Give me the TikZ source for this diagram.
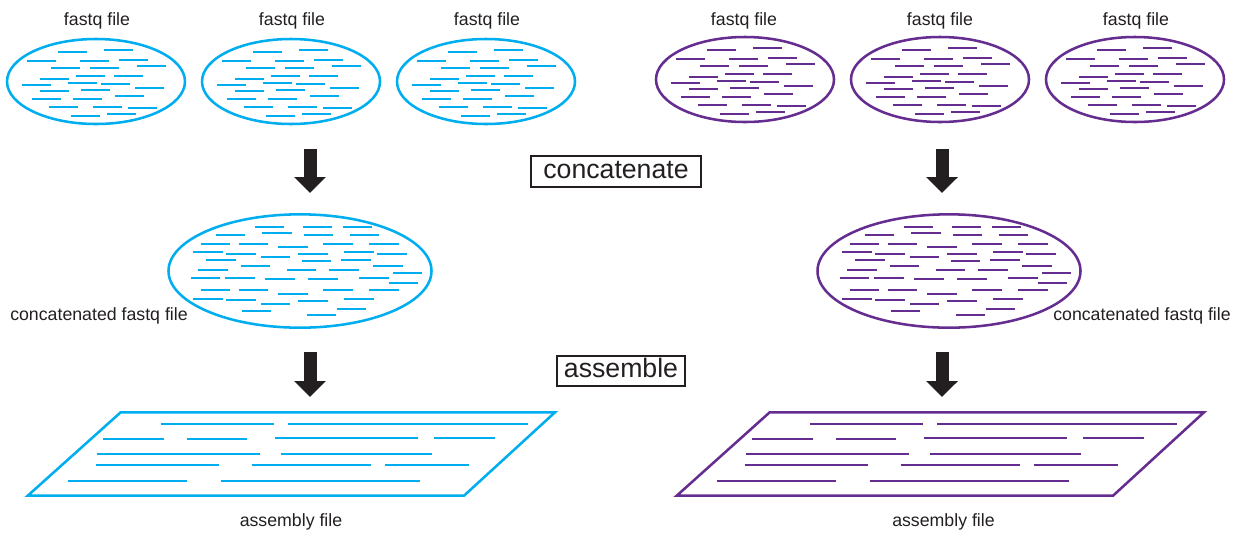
\documentclass[tikz,border=0pt]{standalone}
\usepackage{fontspec}
\setmainfont{Liberation Sans}
\usetikzlibrary{shapes.geometric,arrows.meta}
\definecolor{cblue}{RGB}{0,174,239}
\definecolor{cpurple}{RGB}{102,45,145}
\definecolor{ink}{RGB}{35,31,32}
\newcommand\SmallReads{%
  \foreach \x/\y in {-38/-30, 8/-32, -69/-21, -16/-21, 23/-22, -45/-14, -6/-14, 41/-16,
    -20/-6, 18/-6, -56/-3, -28/1, -74/3, 5/2, 39/6, -56/9, -15/8, 19/14,
    -64/17, -23/17, -47/25, -3/25, 32/26, -25/34, 11/32}
    \draw[readline] (\x,\y) -- ++(29,0);}
\newcommand\LargeReads{%
  \foreach \x/\y in {255/227, 215.7/235, 262.3/233, 200.7/244, 239/244, 278.3/247,
    193.3/252, 226.3/254, 261/257, 206.3/260, 240.7/266, 198.3/270, 287/270,
    191/278, 225.3/278, 265.3/279, 200.7/290, 239/290, 278.3/294, 193.3/299,
    226.3/300, 261/304, 242/311, 303/227, 343/227, 304/235, 349.7/235,
    323.3/244, 369.3/244, 298.3/254, 344.3/252, 377.3/254, 301.7/261,
    341.3/260, 373.3/266, 329.3/270, 393/273, 308.3/279, 359.3/278, 389/283,
    323.3/290, 369.3/290, 298.3/301, 344.3/299, 337/309, 307/315}
    \draw[readline] (\x,\y) -- ++(29.3,0);}
\newcommand\AsmReads{%
  \foreach \a/\b/\y in {160.7/273.7/424, 288.3/527.7/424, 103.3/164/439, 186.7/247.3/439,
    275/417.7/438, 434/495/438, 96.7/260.3/454, 281/432.3/454,
    95.7/218.7/465, 251.7/371.3/465, 384.7/469.3/465, 68.3/187.3/481, 220.7/419.7/481}
    \draw[readline] (\a,\y) -- (\b,\y);}
\begin{document}
\begin{tikzpicture}[x=0.75pt,y=-0.75pt,
  lbl/.style={font=\fontsize{13.3}{16}\selectfont, text=ink, inner sep=0, anchor=base},
  stepbox/.style={draw=ink, line width=1.4pt, font=\fontsize{20}{24}\selectfont, text=ink,
    text height=15pt, text depth=4.8pt, inner sep=0, minimum height=23pt},
  smallell/.style={ellipse, draw, line width=1.9pt, minimum width=133.5pt, minimum height=63.75pt, inner sep=0},
  largeell/.style={ellipse, draw, line width=1.9pt, minimum width=197.25pt, minimum height=85pt, inner sep=0},
  readline/.style={line width=2.1pt},
  asm/.style={line width=1.9pt, line join=miter},
  bigarrow/.style={draw=ink, line width=9.75pt, -{Triangle[width=23.25pt,length=12pt]}}
]
\useasboundingbox (0,0) rectangle (1239,533);

% ---------- blue side ----------
\begin{scope}[cblue]
  \node[smallell] (eb1) at (96,81.5) {};
  \node[smallell] (eb2) at (291,81.5) {};
  \node[smallell] (eb3) at (486,81.5) {};
  \begin{scope}[shift={(96,82)}]\SmallReads\end{scope}
  \begin{scope}[shift={(291,82)}]\SmallReads\end{scope}
  \begin{scope}[shift={(486,82)}]\SmallReads\end{scope}
  \node[largeell] (lb) at (300,271) {};
  \LargeReads
  \coordinate (pb1) at (27.7,495.7);
  \coordinate (pb2) at (120.7,412.3);
  \coordinate (pb3) at (555,412.3);
  \coordinate (pb4) at (464,495.7);
  \draw[asm] (pb1) -- (pb2) -- (pb3) -- (pb4) -- cycle;
  \AsmReads
\end{scope}

% ---------- purple side ----------
\begin{scope}[cpurple]
  \node[smallell] (ep1) at (745,79.5) {};
  \node[smallell] (ep2) at (940,79.5) {};
  \node[smallell] (ep3) at (1135,79.5) {};
  \begin{scope}[shift={(745,80)}]\SmallReads\end{scope}
  \begin{scope}[shift={(940,80)}]\SmallReads\end{scope}
  \begin{scope}[shift={(1135,80)}]\SmallReads\end{scope}
  \node[largeell] (lp) at (949,271) {};
  \begin{scope}[shift={(649,0)}]
    \LargeReads
    \coordinate (pp1) at (27.7,495.7);
    \coordinate (pp2) at (120.7,412.3);
    \coordinate (pp3) at (555,412.3);
    \coordinate (pp4) at (464,495.7);
    \draw[asm] (pp1) -- (pp2) -- (pp3) -- (pp4) -- cycle;
    \AsmReads
  \end{scope}
\end{scope}

% ---------- labels ----------
\node[lbl] (tb1) at (97,25) {fastq file};
\node[lbl] (tb2) at (292,25) {fastq file};
\node[lbl] (tb3) at (487,25) {fastq file};
\node[lbl] (tp1) at (744,25) {fastq file};
\node[lbl] (tp2) at (940,25) {fastq file};
\node[lbl] (tp3) at (1136,25) {fastq file};
\node[lbl] (cb) at (99,320) {concatenated fastq file};
\node[lbl] (cp) at (1142,320) {concatenated fastq file};
\node[lbl] (ab) at (291,526) {assembly file};
\node[lbl] (ap) at (943.5,526) {assembly file};

\node[stepbox, minimum width=127.5pt] (conc) at (616,171.5) {concatenate};
\node[stepbox, minimum width=96pt] (asmb) at (621,371) {assemble};

% ---------- arrows ----------
\coordinate (a1s) at (310,149); \coordinate (a1e) at (310,193);
\coordinate (a2s) at (310,352); \coordinate (a2e) at (310,397);
\coordinate (a3s) at (942,149); \coordinate (a3e) at (942,193);
\coordinate (a4s) at (942,352); \coordinate (a4e) at (942,397);
\draw[bigarrow] (a1s) -- (a1e);
\draw[bigarrow] (a2s) -- (a2e);
\draw[bigarrow] (a3s) -- (a3e);
\draw[bigarrow] (a4s) -- (a4e);
\end{tikzpicture}
\end{document}
